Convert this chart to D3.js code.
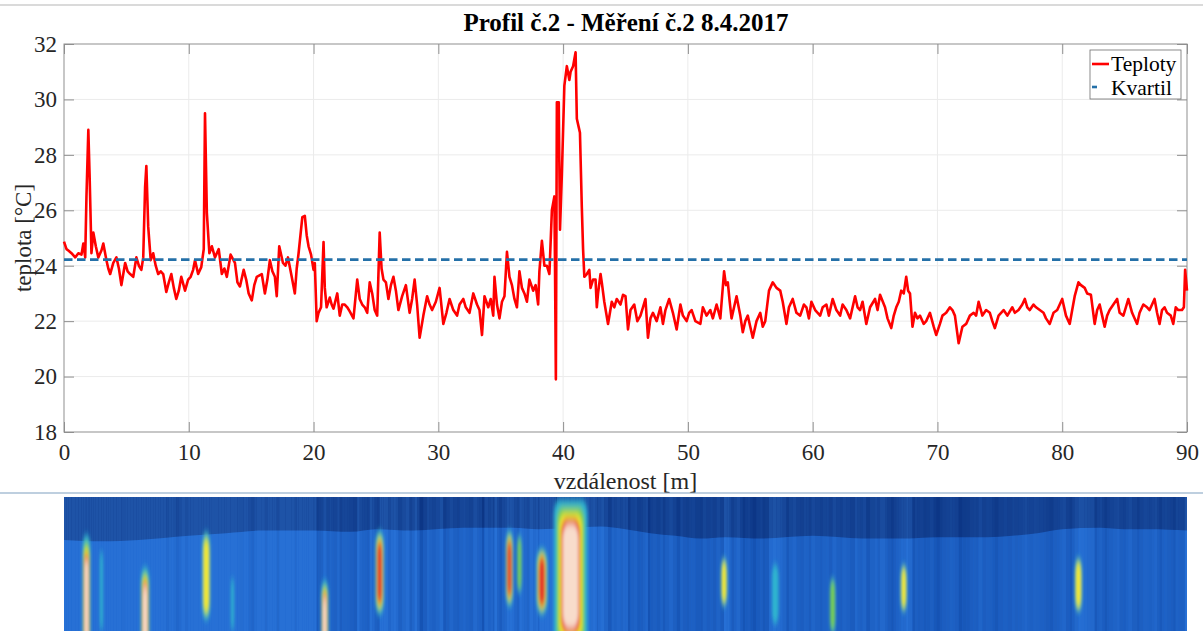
<!DOCTYPE html>
<html>
<head>
<meta charset="utf-8">
<script src="https://cdn.jsdelivr.net/npm/d3@7"></script>
<style>
  body { margin: 0; background: #fff; }
  svg { display: block; font-family: "Liberation Serif", "Times New Roman", serif; }
</style>
</head>
<body>
<svg width="1203" height="631"></svg>
<script>
// měřené hodnoty (vzdálenost v m, teplota ve °C)
const distance = [
  0.0, 0.2, 0.35, 0.6, 0.9, 1.15, 1.4, 1.55, 1.7, 1.8, 1.95, 2.05, 2.2, 2.35, 2.55, 2.75, 3.0, 3.15, 3.4, 3.55,
  3.7, 3.95, 4.2, 4.4, 4.6, 4.9, 5.1, 5.3, 5.55, 5.8, 6.0, 6.2, 6.35, 6.5, 6.6, 6.75, 6.95, 7.15, 7.35, 7.55,
  7.75, 7.95, 8.2, 8.4, 8.6, 8.8, 9.0, 9.2, 9.4, 9.7, 9.95, 10.15, 10.35, 10.5, 10.75, 11.0, 11.2, 11.3, 11.45, 11.65,
  11.85, 12.1, 12.4, 12.65, 12.85, 13.05, 13.35, 13.7, 13.9, 14.1, 14.4, 14.6, 14.8, 15.05, 15.25, 15.45, 15.85, 16.1, 16.3, 16.5,
  16.7, 16.9, 17.05, 17.25, 17.55, 17.75, 17.95, 18.25, 18.5, 18.65, 18.8, 19.1, 19.3, 19.45, 19.6, 19.8, 20.0, 20.1, 20.25, 20.4,
  20.6, 20.8, 20.9, 21.05, 21.3, 21.45, 21.6, 21.9, 22.1, 22.3, 22.5, 22.7, 22.9, 23.2, 23.5, 23.7, 23.9, 24.1, 24.3, 24.5,
  24.7, 24.9, 25.1, 25.3, 25.45, 25.6, 25.8, 26.0, 26.2, 26.4, 26.6, 26.8, 27.1, 27.4, 27.7, 27.9, 28.1, 28.3, 28.5, 28.8,
  29.1, 29.3, 29.5, 29.8, 30.1, 30.4, 30.65, 30.9, 31.2, 31.5, 31.7, 32.0, 32.2, 32.5, 32.8, 33.1, 33.3, 33.5, 33.7, 34.0,
  34.2, 34.4, 34.5, 34.7, 34.9, 35.1, 35.3, 35.5, 35.7, 35.9, 36.1, 36.3, 36.5, 36.7, 36.9, 37.1, 37.3, 37.6, 37.8, 38.0,
  38.1, 38.3, 38.5, 38.7, 38.9, 39.1, 39.3, 39.35, 39.42, 39.5, 39.65, 39.75, 39.9, 40.1, 40.3, 40.5, 40.6, 40.8, 41.0, 41.1,
  41.25, 41.35, 41.5, 41.6, 41.7, 41.9, 42.1, 42.2, 42.4, 42.6, 42.7, 42.8, 43.0, 43.1, 43.3, 43.6, 43.9, 44.1, 44.3, 44.6,
  44.8, 45.0, 45.2, 45.4, 45.7, 45.95, 46.2, 46.4, 46.6, 46.8, 47.0, 47.2, 47.5, 47.8, 48.0, 48.2, 48.5, 48.8, 49.1, 49.4,
  49.6, 49.9, 50.1, 50.3, 50.6, 51.0, 51.2, 51.5, 51.8, 52.0, 52.3, 52.6, 52.9, 53.05, 53.2, 53.35, 53.5, 53.7, 53.9, 54.2,
  54.4, 54.6, 54.8, 55.0, 55.2, 55.5, 55.8, 56.0, 56.2, 56.5, 56.8, 57.1, 57.4, 57.6, 57.9, 58.1, 58.4, 58.7, 59.0, 59.3,
  59.5, 59.7, 59.9, 60.2, 60.6, 60.8, 61.1, 61.3, 61.6, 61.9, 62.2, 62.4, 62.7, 63.0, 63.4, 63.6, 63.8, 64.0, 64.3, 64.6,
  65.0, 65.2, 65.4, 65.8, 66.0, 66.3, 66.5, 66.7, 66.9, 67.1, 67.3, 67.5, 67.65, 67.8, 68.0, 68.2, 68.4, 68.6, 68.9, 69.1,
  69.4, 69.7, 69.9, 70.2, 70.4, 70.7, 71.0, 71.2, 71.4, 71.7, 72.0, 72.3, 72.6, 72.9, 73.1, 73.3, 73.6, 73.9, 74.2, 74.4,
  74.6, 74.9, 75.3, 75.6, 76.0, 76.2, 76.5, 76.8, 77.0, 77.2, 77.4, 77.7, 77.9, 78.2, 78.5, 78.7, 79.0, 79.3, 79.6, 79.8,
  80.0, 80.3, 80.6, 80.8, 81.0, 81.3, 81.5, 81.8, 82.0, 82.3, 82.6, 82.8, 83.0, 83.2, 83.4, 83.6, 83.8, 84.1, 84.4, 84.6,
  84.9, 85.1, 85.3, 85.6, 86.0, 86.2, 86.5, 86.8, 87.0, 87.2, 87.4, 87.6, 87.8, 88.0, 88.2, 88.4, 88.7, 88.9, 89.1, 89.3,
  89.6, 89.75, 89.85, 90.0
];
const temperature = [
  24.87, 24.6, 24.55, 24.45, 24.3, 24.45, 24.4, 24.8, 24.3, 26.5, 28.9, 27.3, 24.45, 25.2, 24.7, 24.3, 24.55, 24.8, 24.2, 23.9,
  23.7, 24.1, 24.3, 23.9, 23.3, 24.1, 23.8, 23.7, 23.6, 24.3, 24.0, 23.85, 24.3, 26.85, 27.6, 25.4, 24.2, 24.45, 24.0, 23.7,
  23.8, 23.7, 23.05, 23.4, 23.7, 23.2, 22.8, 23.1, 23.6, 23.1, 23.5, 23.6, 23.85, 24.2, 23.7, 23.95, 24.6, 29.5, 25.9, 24.45,
  24.7, 24.3, 24.6, 23.7, 23.9, 23.6, 24.4, 24.1, 23.4, 23.25, 23.85, 23.5, 23.0, 22.75, 23.3, 23.6, 23.7, 23.0, 23.5, 24.2,
  23.8, 23.6, 22.9, 24.7, 24.1, 24.0, 24.3, 23.6, 23.0, 23.9, 24.45, 25.75, 25.8, 25.1, 24.7, 24.4, 23.85, 24.1, 22.0, 22.3,
  22.5, 24.85, 23.2, 22.5, 22.85, 22.6, 22.45, 23.0, 22.2, 22.6, 22.6, 22.5, 22.35, 22.1, 23.5, 22.8, 22.6, 22.5, 22.3, 23.4,
  23.0, 22.4, 22.2, 25.2, 23.9, 23.5, 23.4, 22.8, 23.3, 23.6, 23.1, 22.4, 22.9, 23.3, 22.3, 22.8, 23.5, 22.6, 21.4, 22.2,
  22.9, 22.6, 22.4, 22.7, 23.2, 21.9, 22.3, 22.8, 22.4, 22.2, 22.6, 22.8, 22.5, 22.3, 23.0, 22.6, 22.4, 21.5, 22.9, 22.5,
  22.8, 22.2, 23.6, 22.6, 22.1, 22.7, 22.9, 24.5, 23.6, 23.3, 22.8, 22.5, 23.8, 23.2, 23.0, 22.7, 23.5, 23.1, 23.3, 22.6,
  23.8, 24.9, 24.0, 24.0, 23.7, 26.0, 26.5, 24.0, 19.9, 29.9, 29.9, 25.3, 27.3, 30.5, 31.2, 30.7, 31.0, 31.2, 31.7, 29.3,
  29.0, 28.8, 26.1, 24.6, 23.6, 23.7, 23.85, 23.2, 23.5, 23.5, 22.5, 23.0, 23.7, 23.4, 22.7, 21.9, 22.7, 22.5, 22.8, 22.6,
  22.95, 22.9, 21.7, 22.4, 22.6, 22.0, 22.2, 22.5, 22.8, 21.4, 22.1, 22.3, 22.0, 22.5, 21.9, 22.4, 22.8, 22.3, 21.7, 22.6,
  22.2, 22.0, 22.3, 22.4, 22.0, 21.9, 22.5, 22.2, 22.4, 22.1, 22.6, 22.1, 23.8, 23.3, 23.4, 22.7, 22.1, 22.5, 22.9, 22.2,
  21.6, 22.0, 22.2, 21.8, 21.4, 22.0, 22.3, 21.8, 22.0, 23.1, 23.4, 23.2, 23.1, 22.7, 21.9, 22.5, 22.8, 22.3, 22.2, 22.6,
  22.5, 22.1, 22.7, 22.4, 22.2, 22.5, 22.6, 22.2, 22.8, 22.4, 22.2, 22.6, 22.4, 22.1, 22.9, 22.5, 22.4, 22.7, 21.9, 22.5,
  22.8, 22.4, 22.95, 22.5, 22.1, 21.75, 22.2, 22.5, 22.7, 23.1, 23.0, 23.6, 23.1, 23.0, 21.8, 22.3, 22.1, 22.2, 21.9, 22.0,
  22.3, 21.8, 21.5, 21.9, 22.2, 22.3, 22.5, 22.4, 22.2, 21.2, 21.8, 21.9, 22.2, 22.3, 22.2, 22.7, 22.2, 22.4, 22.3, 22.0,
  21.75, 22.2, 22.4, 22.2, 22.5, 22.3, 22.4, 22.6, 22.8, 22.5, 22.4, 22.6, 22.5, 22.4, 22.3, 22.1, 21.9, 22.3, 22.4, 22.6,
  22.8, 22.2, 21.9, 22.4, 22.9, 23.4, 23.3, 23.2, 23.0, 22.95, 21.9, 22.4, 22.6, 22.2, 21.8, 22.2, 22.4, 22.6, 22.8, 22.3,
  22.2, 22.5, 22.8, 22.3, 21.9, 22.3, 22.6, 22.5, 22.4, 22.6, 22.8, 22.3, 21.9, 22.4, 22.5, 22.3, 22.2, 21.9, 22.5, 22.4,
  22.4, 22.5, 23.85, 23.1
];
const quartile = 24.22;

const xTicks = [0, 10, 20, 30, 40, 50, 60, 70, 80, 90];
const yTicks = [18, 20, 22, 24, 26, 28, 30, 32];

// termogram pod grafem: hranice tmavého pásu (vzdálenost, hloubka 0-100)
const bandEdge = [
  [0, 32], [3, 33], [6, 32], [10, 29], [13, 27], [16, 25], [20, 25], [23, 26], [25, 24], [28, 25], [32, 23], [36, 23], [38, 24],
  [43, 22], [45, 24], [47, 27], [49, 29], [51, 31], [53, 30], [56, 31], [60, 29], [64, 31], [67, 31], [70, 30], [74, 30],
  [76, 29], [78, 27], [80, 24], [83, 23], [85, 24], [87, 24], [90, 25]
];
// teplá místa: vzdálenost, horní a dolní hloubka, polovina šířky (m), nejvyšší úroveň barvy
const hotDist =   [1.8, 3.0, 6.5, 11.4, 13.5, 20.9, 25.3, 35.7, 36.5, 38.3, 40.6, 52.9, 57.0, 61.6, 67.3, 81.3];
const hotTop =    [28, 40, 52, 26, 60, 62, 25, 25, 28, 38, 2, 45, 50, 60, 50, 45];
const hotBottom = [140, 100, 135, 92, 100, 135, 88, 82, 72, 88, 116, 82, 95, 102, 86, 86];
const hotHalf =   [0.32, 0.12, 0.35, 0.32, 0.12, 0.3, 0.35, 0.3, 0.18, 0.45, 1.35, 0.26, 0.26, 0.22, 0.26, 0.3];
const hotPeak =   [5, 1, 5, 3, 1, 5, 4, 4, 2, 4, 5, 3, 1, 2, 3, 3];
const heatColors = ["#2fb4cf", "#79cf4c", "#f1e634", "#e4392b", "#f8dccb"];

const svg = d3.select("svg"),
  margin = { top: 44, right: 16, bottom: 199, left: 64 },
  width = +svg.attr("width") - margin.left - margin.right,
  height = +svg.attr("height") - margin.top - margin.bottom,
  g = svg.append("g").attr("transform", `translate(${margin.left},${margin.top})`);

const x = d3.scaleLinear().domain([0, 90]).range([0, width]);
const y = d3.scaleLinear().domain([18, 32]).range([height, 0]);

// horní okraj okna a oddělovací čára
svg.append("line").attr("x1", 0).attr("x2", 1203).attr("y1", 5).attr("y2", 5)
  .attr("stroke", "#dadada").attr("stroke-width", 2);
svg.append("line").attr("x1", 0).attr("x2", 1203).attr("y1", 493).attr("y2", 493)
  .attr("stroke", "#a9bfd5").attr("stroke-width", 1.5);

// mřížka
g.append("g").selectAll("line").data(xTicks.slice(1, -1)).enter().append("line")
  .attr("x1", (d) => x(d)).attr("x2", (d) => x(d)).attr("y1", 0).attr("y2", height)
  .attr("stroke", "#ebebeb").attr("stroke-width", 1);
g.append("g").selectAll("line").data(yTicks.slice(1, -1)).enter().append("line")
  .attr("x1", 0).attr("x2", width).attr("y1", (d) => y(d)).attr("y2", (d) => y(d))
  .attr("stroke", "#ebebeb").attr("stroke-width", 1);

// rámeček
g.append("rect").attr("width", width).attr("height", height)
  .attr("fill", "none").attr("stroke", "#8f8f8f").attr("stroke-width", 1);

const styleAxis = (sel) => {
  sel.attr("font-family", '"Liberation Serif", serif').attr("font-size", 23);
  sel.select(".domain").remove();
  sel.selectAll(".tick line").attr("stroke", "#8f8f8f");
  sel.selectAll("text").attr("fill", "#262626");
};

g.append("g").attr("transform", `translate(0,${height})`)
  .call(d3.axisBottom(x).tickValues(xTicks).tickSize(-10).tickPadding(12).tickFormat(d3.format("d")))
  .call(styleAxis);
g.append("g")
  .call(d3.axisTop(x).tickValues(xTicks).tickSize(-10).tickFormat(""))
  .call(styleAxis);
g.append("g")
  .call(d3.axisLeft(y).tickValues(yTicks).tickSize(-10).tickPadding(7).tickFormat(d3.format("d")))
  .call(styleAxis);
g.append("g").attr("transform", `translate(${width},0)`)
  .call(d3.axisRight(y).tickValues(yTicks).tickSize(-10).tickFormat(""))
  .call(styleAxis);

// křivka teplot
const series = distance.map((d, i) => ({ d, t: temperature[i] }));
g.append("path").datum(series)
  .attr("fill", "none").attr("stroke", "#ff0000").attr("stroke-width", 2.6)
  .attr("stroke-linejoin", "round")
  .attr("d", d3.line().x((p) => x(p.d)).y((p) => y(p.t)));

// kvartil
g.append("line")
  .attr("x1", x(0)).attr("x2", x(90)).attr("y1", y(quartile)).attr("y2", y(quartile))
  .attr("stroke", "#2470a8").attr("stroke-width", 2.6).attr("stroke-dasharray", "8.5,4.5");

// popisky
svg.append("text").attr("x", 626).attr("y", 31).attr("text-anchor", "middle")
  .attr("fill", "#000").style("font-size", "25px").style("font-weight", "bold")
  .text("Profil č.2 - Měření č.2 8.4.2017");
svg.append("text").attr("x", margin.left + width / 2).attr("y", 489).attr("text-anchor", "middle")
  .attr("fill", "#262626").style("font-size", "24px").text("vzdálenost [m]");
svg.append("text").attr("transform", `translate(31,${margin.top + height / 2}) rotate(-90)`)
  .attr("text-anchor", "middle").attr("fill", "#262626").style("font-size", "23px")
  .text("teplota [°C]");

// legenda
const legend = svg.append("g").attr("transform", "translate(1090,50)");
legend.append("rect").attr("width", 91).attr("height", 49)
  .attr("fill", "#fff").attr("stroke", "#6e6e6e").attr("stroke-width", 0.8);
legend.append("line").attr("x1", 2).attr("x2", 19).attr("y1", 14).attr("y2", 14)
  .attr("stroke", "#ff0000").attr("stroke-width", 2.6);
legend.append("line").attr("x1", 2).attr("x2", 7).attr("y1", 37).attr("y2", 37)
  .attr("stroke", "#2470a8").attr("stroke-width", 2.6);
legend.append("text").attr("x", 21).attr("y", 21).style("font-size", "21.5px").attr("fill", "#000").text("Teploty");
legend.append("text").attr("x", 21).attr("y", 45).style("font-size", "21.5px").attr("fill", "#000").text("Kvartil");

// termogram
const thermo = { top: 497, bottom: 631 };
const depth = d3.scaleLinear().domain([0, 100]).range([thermo.top, thermo.bottom]);
const defs = svg.append("defs");
defs.append("clipPath").attr("id", "thermoClip").append("rect")
  .attr("x", margin.left).attr("y", thermo.top).attr("width", width).attr("height", thermo.bottom - thermo.top);
defs.append("filter").attr("id", "soft").attr("x", "-50%").attr("y", "-20%").attr("width", "200%").attr("height", "140%")
  .append("feGaussianBlur").attr("stdDeviation", "1.4 3.5");

const tg = svg.append("g").attr("clip-path", "url(#thermoClip)");
const tx = (d) => margin.left + x(d);
tg.append("rect").attr("x", margin.left).attr("y", thermo.top).attr("width", width)
  .attr("height", thermo.bottom - thermo.top).attr("fill", "#1a62cc");
tg.append("path").datum(bandEdge).attr("fill", "#0e3b8e")
  .attr("d", d3.area().curve(d3.curveMonotoneX).x((p) => tx(p[0])).y0(thermo.top).y1((p) => depth(p[1])));

// svislé pruhy podle teploty
const stripeColor = d3.scaleLinear().domain([21.5, 23.5]).range(["#0a2a70", "#4f9cf2"]).clamp(true);
tg.append("g").attr("opacity", 0.25).selectAll("rect").data(series.slice(0, -1)).enter().append("rect")
  .attr("x", (p) => tx(p.d)).attr("y", thermo.top)
  .attr("width", (p, i) => Math.max(0.5, tx(series[i + 1].d) - tx(p.d)))
  .attr("height", thermo.bottom - thermo.top)
  .attr("fill", (p) => stripeColor(p.t));

const hot = hotDist.map((d, i) => ({ d, top: hotTop[i], bottom: hotBottom[i], half: hotHalf[i], peak: hotPeak[i] }));
const levels = [];
hot.forEach((h) => {
  for (let k = 0; k < h.peak; k++) levels.push({ h, k });
});
levels.sort((a, b) => a.k - b.k);
const shrinkW = [1, 0.82, 0.68, 0.56, 0.47];
const shrinkH = [1, 0.9, 0.82, 0.75, 0.68];
tg.append("g").attr("filter", "url(#soft)").selectAll("rect").data(levels).enter().append("rect")
  .each(function ({ h, k }) {
    const cx = tx(h.d), cy = depth((h.top + h.bottom) / 2);
    const w = (tx(h.d + h.half) - tx(h.d)) * shrinkW[k];
    const hh = ((depth(h.bottom) - depth(h.top)) / 2) * shrinkH[k];
    d3.select(this).attr("x", cx - w).attr("y", cy - hh).attr("width", 2 * w).attr("height", 2 * hh)
      .attr("rx", Math.min(w, 6)).attr("ry", Math.min(hh, 14))
      .attr("fill", heatColors[k]);
  });
</script>
</body>
</html>
